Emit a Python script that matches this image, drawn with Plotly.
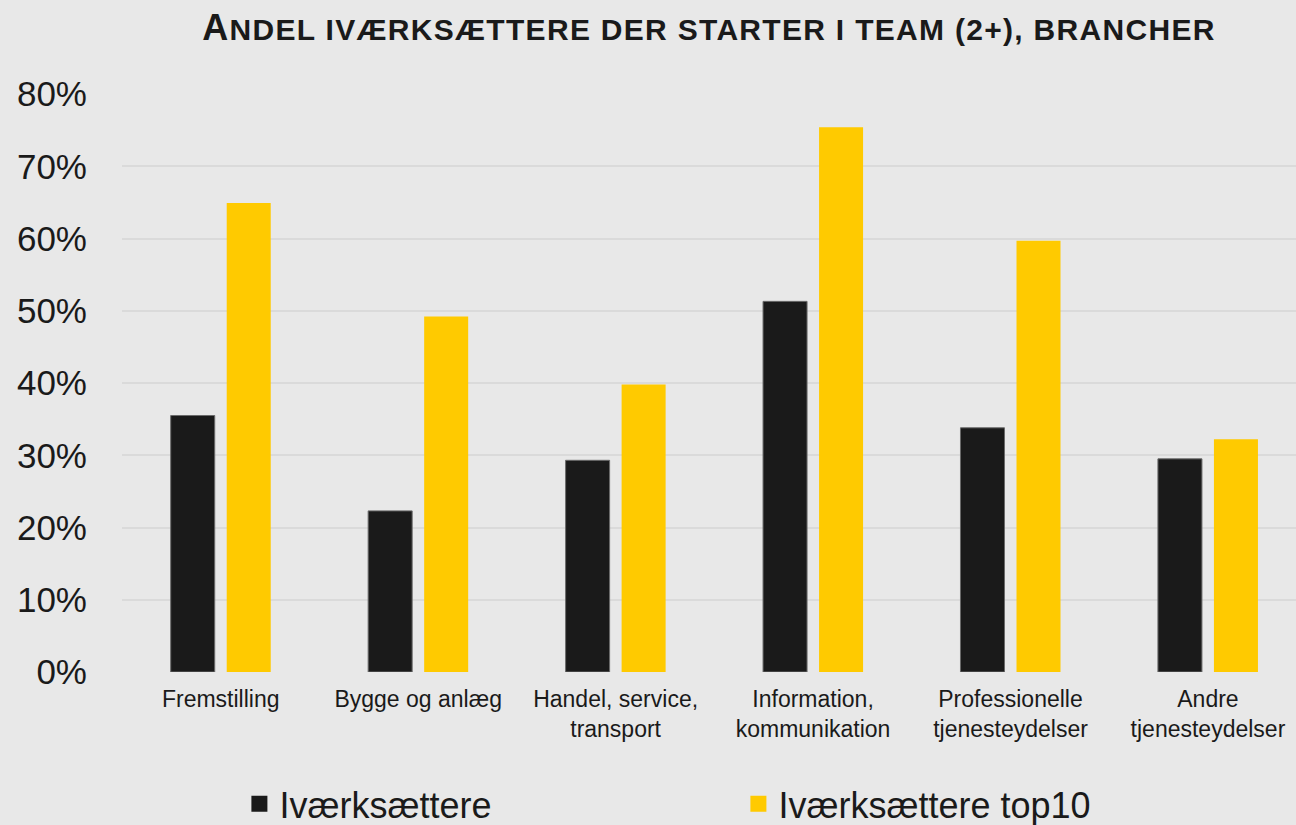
import plotly.graph_objects as go

categories = ["Fremstilling", "Bygge og anlæg", "Handel, service,<br>transport",
              "Information,<br>kommunikation", "Professionelle<br>tjenesteydelser",
              "Andre<br>tjenesteydelser"]
series_names = ["Iværksættere", "Iværksættere top10"]
ivaerksaettere = [0.355, 0.223, 0.293, 0.513, 0.338, 0.295]
top10 = [0.649, 0.492, 0.398, 0.754, 0.597, 0.322]
y_ticks = [0, 0.1, 0.2, 0.3, 0.4, 0.5, 0.6, 0.7, 0.8]

BLACK = "#1a1a1a"
YELLOW = "#ffca00"
BG = "#e8e8e8"
FONT = "Liberation Sans, Arial, sans-serif"

x = list(range(len(categories)))
fig = go.Figure()
fig.add_trace(go.Bar(x=x, y=ivaerksaettere, width=0.2229, offset=-0.2533,
                     marker=dict(color=BLACK, line=dict(color="#6a6a6a", width=1)),
                     showlegend=False, name=series_names[0]))
fig.add_trace(go.Bar(x=x, y=top10, width=0.2229, offset=0.0304,
                     marker=dict(color=YELLOW, line=dict(width=0)),
                     showlegend=False, name=series_names[1]))
# legend proxies
for nm, col in zip(series_names, [BLACK, YELLOW]):
    fig.add_trace(go.Scatter(x=[None], y=[None], mode="markers", name=nm,
                             marker=dict(symbol="square", size=18, color=col)))

fig.update_layout(
    width=1296, height=825,
    paper_bgcolor=BG, plot_bgcolor=BG,
    margin=dict(l=122, r=0, t=94, b=153, autoexpand=False),
    barmode="overlay",
    font=dict(family=FONT, color=BLACK),
    title=dict(
        text="<b><span style='letter-spacing:1.3px'><span style='font-size:36px'>A</span>NDEL IVÆRKSÆTTERE DER STARTER I TEAM (2+), BRANCHER</span></b>",
        font=dict(size=30, family=FONT, color=BLACK),
        x=0.5, xref="paper", xanchor="center",
        y=1 - 29 / 825, yref="container", yanchor="middle"),
    legend=dict(orientation="h", x=0.1, xanchor="left", y=-0.228, yanchor="middle",
                font=dict(size=36, family=FONT, color=BLACK),
                entrywidth=454, entrywidthmode="pixels",
                bgcolor="rgba(0,0,0,0)", itemclick=False),
)
fig.update_xaxes(
    range=[-0.5, 5.446], tickmode="array", tickvals=x, ticktext=categories,
    tickfont=dict(size=23, family=FONT, color=BLACK), automargin=False,
    showgrid=False, zeroline=False, showline=False, ticks="", ticklabelstandoff=11,
    fixedrange=True)
fig.update_yaxes(
    range=[0, 0.8], tickmode="array", tickvals=y_ticks,
    ticktext=[f"{int(round(v*100))}%" for v in y_ticks], automargin=False,
    tickfont=dict(size=35, family=FONT, color=BLACK),
    showgrid=True, gridcolor="#dadada", gridwidth=1.6,
    zeroline=False, showline=False, ticks="", ticklabelstandoff=34, fixedrange=True)

fig.write_html("out.html", config={"displayModeBar": False},
               post_script="document.body.style.margin='0';document.body.style.overflow='hidden';")
